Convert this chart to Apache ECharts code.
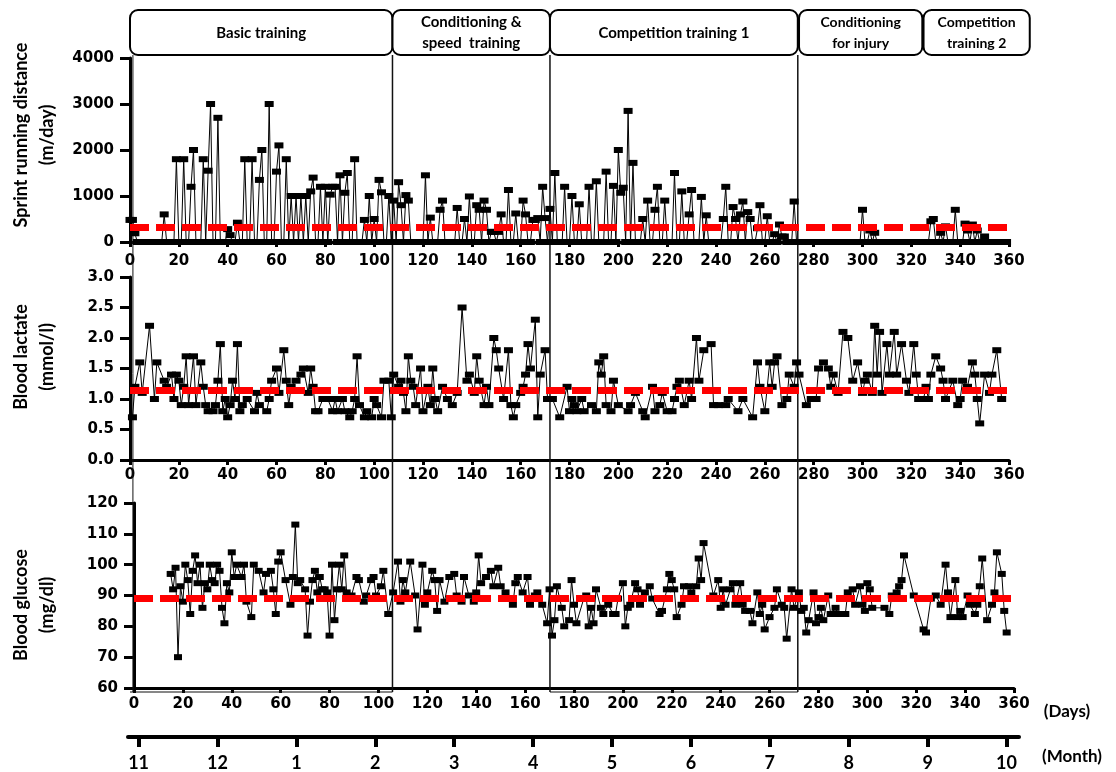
<!DOCTYPE html>
<html><head><meta charset="utf-8">
<script src="https://cdn.jsdelivr.net/npm/echarts@6/dist/echarts.min.js"></script>
<style>html,body{margin:0;padding:0;background:#fff}#c{width:1116px;height:772px}</style>
</head><body><div id="c"></div>
<script>
// ---- data ----
// sprint running distance (m/day), one value per day starting day 0
const sprintDistance = [
 480,480,190,0,0,0,0,0,0,0,0,0,0,0,600,0,0,0,0,1800,
 0,0,1800,0,0,1200,2000,0,0,0,1800,0,1550,3000,0,0,2700,0,0,0,
 280,150,0,0,420,0,0,1800,0,0,1800,0,0,1350,2000,0,0,3000,0,0,
 1530,2100,0,0,1800,0,1000,0,1000,0,1000,0,1000,0,1100,1400,0,0,1200,0,
 1200,0,1030,1200,1200,0,1450,0,1070,1500,0,0,1800,0,0,0,480,0,1000,0,
 500,0,1350,1080,0,0,1000,0,900,0,1300,800,0,1020,900,0,0,0,0,0,
 0,1450,0,530,0,0,0,700,900,0,0,0,0,0,740,0,0,500,0,990,
 0,0,800,700,0,900,700,0,220,220,0,220,600,0,0,1130,0,0,620,0,
 0,900,600,0,0,480,480,520,0,1200,520,0,720,0,1500,0,0,0,1200,0,
 0,1000,0,0,820,0,0,0,1200,0,0,1320,0,0,0,1530,0,0,1220,0,
 2000,1070,1180,0,2850,0,1720,0,0,0,500,0,900,0,0,700,1200,0,0,900,
 0,0,0,1500,0,0,1100,0,0,600,1130,0,0,0,980,0,580,0,0,0,
 0,0,0,500,1200,0,0,760,500,0,600,880,0,650,500,0,0,300,800,0,
 0,560,0,0,170,0,380,120,120,0,0,0,880,0,0,0,0,0,0,0,
 0,0,0,0,0,0,0,0,0,0,0,0,0,0,0,0,0,0,0,0,
 700,0,0,250,0,200,0,0,0,0,0,0,0,0,0,0,0,0,0,0,
 0,0,0,0,0,0,0,0,450,500,0,0,200,0,340,0,0,0,700,0,
 0,0,400,250,0,380,0,250,0,0,120,0,0,0,0,0,0,0,0,0
];
// blood lactate (mmol/l): [day, value]
const bloodLactate = [
 [1,0.7],[2,1.2],[4,1.6],[5,1.1],[8,2.2],[10,1.0],[11,1.6],[14,1.3],[15,1.2],[17,1.4],[18,1.0],[19,1.4],[20,1.3],[21,0.9],[22,1.2],[23,1.7],[24,0.9],[26,1.7],[27,0.9],[29,1.6],
 [30,1.2],[31,0.9],[32,0.8],[34,0.8],[35,0.9],[36,1.3],[37,1.9],[38,0.8],[39,1.0],[40,0.7],[41,0.9],[42,1.3],[43,1.0],[44,1.9],[45,0.8],[46,0.9],[48,1.0],[51,0.8],[52,1.1],[53,0.9],
 [56,0.8],[57,1.0],[58,1.3],[60,1.5],[61,1.1],[63,1.8],[64,1.3],[65,0.9],[66,1.2],[68,1.3],[70,1.4],[71,1.5],[73,1.1],[74,1.5],[75,1.2],[76,0.8],[77,0.8],[79,1.0],[81,1.0],[83,0.8],
 [84,1.0],[85,0.8],[87,1.0],[88,0.8],[90,0.7],[91,0.8],[92,1.0],[93,1.7],[94,0.9],[96,0.7],[97,0.8],[99,0.7],[100,1.0],[101,0.9],[103,0.7],[104,1.3],[106,1.3],[107,0.7],[108,1.4],[110,1.2],
 [111,1.3],[112,1.1],[113,0.8],[114,1.7],[115,1.3],[116,1.2],[117,0.9],[119,1.5],[120,0.8],[122,1.2],[123,0.9],[124,1.5],[125,1.0],[126,0.8],[128,1.2],[130,1.0],[132,0.9],[134,1.1],[136,2.5],[138,1.3],
 [139,1.4],[141,1.1],[142,1.7],[143,1.3],[145,0.9],[146,1.2],[147,0.9],[149,2.0],[150,1.8],[151,1.5],[153,1.0],[155,1.8],[156,0.9],[157,0.7],[158,0.9],[160,1.1],[161,1.2],[162,1.4],[163,1.9],[164,1.5],
 [166,2.3],[167,0.7],[168,1.4],[170,1.8],[171,1.0],[173,1.0],[176,0.7],[179,1.2],[180,0.8],[181,1.0],[182,0.9],[183,0.8],[185,1.0],[186,0.8],[189,0.9],[191,0.8],[192,1.6],[193,1.4],[194,1.7],[195,0.9],
 [197,0.8],[198,1.3],[200,0.9],[204,0.8],[205,0.9],[207,1.1],[210,0.8],[211,0.7],[214,1.2],[215,0.8],[217,0.9],[218,1.1],[220,0.8],[222,0.8],[223,1.0],[224,1.2],[225,1.3],[227,0.9],[229,1.3],[230,1.0],
 [232,2.0],[233,1.3],[235,1.8],[238,1.9],[239,0.9],[241,0.9],[244,0.9],[245,1.0],[249,0.8],[251,1.0],[255,0.7],[257,1.6],[258,1.2],[260,0.8],[262,1.6],[263,1.2],[264,1.6],[265,1.7],[267,0.9],[269,1.0],
 [270,1.4],[272,1.2],[273,1.6],[274,1.4],[277,0.9],[279,1.0],[281,1.0],[282,1.5],[284,1.6],[286,1.5],[287,1.2],[288,1.4],[290,1.1],[292,2.1],[294,2.0],[296,1.3],[298,1.6],[300,1.1],[301,1.3],[302,1.4],
 [304,1.1],[305,2.2],[306,1.4],[307,2.1],[308,1.1],[310,1.9],[311,1.4],[313,2.1],[314,1.4],[316,1.9],[318,1.3],[319,1.1],[321,1.9],[322,1.4],[323,1.0],[325,1.0],[326,1.2],[327,1.0],[328,1.4],[330,1.7],
 [332,1.5],[333,1.3],[334,1.0],[337,1.3],[339,0.9],[340,1.0],[341,1.3],[343,1.2],[345,1.6],[346,1.4],[347,1.0],[348,0.6],[350,1.4],[352,1.1],[353,1.4],[355,1.8],[357,1.0]
];
// blood glucose (mg/dl): [day, value]
const bloodGlucose = [
 [15,97],[16,92],[17,99],[18,70],[19,93],[20,88],[21,100],[22,95],[23,84],[24,98],[25,103],[26,94],[27,100],[28,86],[29,94],[30,92],[31,100],[32,95],[33,94],[34,100],
 [35,98],[36,86],[37,81],[38,94],[39,91],[40,104],[41,96],[42,100],[44,96],[45,100],[46,88],[48,83],[49,100],[51,98],[53,91],[54,97],[56,98],[57,92],[58,84],[59,101],
 [60,104],[62,95],[64,87],[65,96],[66,113],[67,94],[68,95],[70,92],[71,77],[72,88],[73,95],[74,98],[75,91],[76,96],[77,92],[78,92],[79,91],[80,77],[81,100],[82,82],
 [83,92],[84,100],[85,92],[86,103],[87,91],[89,90],[91,96],[92,95],[94,88],[95,90],[97,95],[98,96],[99,90],[101,93],[102,98],[104,84],[106,91],[108,101],[109,88],[110,95],
 [111,91],[113,101],[115,90],[116,79],[118,100],[119,87],[120,91],[122,98],[123,95],[124,85],[125,95],[127,88],[129,96],[131,97],[132,90],[134,88],[135,96],[137,90],[139,88],[140,91],
 [141,103],[142,94],[144,96],[146,98],[147,93],[149,99],[150,93],[152,91],[155,87],[156,94],[157,96],[159,91],[161,96],[162,87],[164,90],[165,91],[167,87],[169,81],[170,92],[171,77],
 [172,82],[173,93],[175,86],[176,80],[178,82],[179,95],[180,87],[181,81],[184,89],[185,90],[186,80],[187,86],[188,81],[189,92],[191,86],[192,84],[194,87],[196,84],[197,84],[198,89],
 [200,94],[201,80],[202,86],[203,87],[205,94],[206,92],[207,87],[209,91],[211,93],[212,89],[215,84],[216,85],[218,92],[219,97],[220,95],[221,92],[222,83],[224,87],[225,93],[227,93],
 [228,91],[230,93],[231,102],[232,95],[233,107],[237,90],[239,95],[240,86],[241,92],[242,87],[244,92],[245,94],[246,87],[248,94],[249,87],[250,85],[252,85],[253,81],[255,91],[256,84],
 [257,87],[258,79],[260,83],[262,86],[263,92],[265,87],[266,86],[267,76],[269,92],[270,86],[272,91],[273,85],[274,86],[275,78],[276,82],[278,91],[279,81],[280,83],[281,86],[282,82],
 [284,90],[285,84],[287,86],[288,84],[290,84],[291,84],[292,91],[294,92],[295,87],[297,93],[298,87],[299,85],[300,94],[301,92],[302,86],[307,86],[309,84],[310,90],[312,91],[313,93],
 [314,95],[315,103],[319,90],[323,79],[324,78],[326,89],[328,90],[330,87],[332,100],[333,91],[334,83],[336,95],[337,83],[338,85],[339,83],[341,90],[342,87],[344,84],[345,87],[346,93],
 [347,102],[349,82],[351,87],[352,91],[353,104],[355,97],[356,85],[357,78]
];
const meanSprint = 330;
const meanLactate = 1.15;
const meanGlucose = 89;
const monthLabels = ['11','12','1','2','3','4','5','6','7','8','9','10'];
const phaseNames = ['Basic training','Conditioning &\nspeed  training','Competition training 1','Conditioning\nfor injury','Competition\ntraining 2'];
const phaseStart = [0, 107.5, 172, 274, 325];
const phaseEnd = [107.5, 172, 273.5, 324.5, 368.5];
const phaseBoundaries = [1.2, 107.5, 172, 273.5];

// ---- chart ----
const chart = echarts.init(document.getElementById('c'));
const tickFont = {fontFamily:'DejaVu Sans', fontWeight:'bold', fontSize:15, color:'#000'};
function xAx(gi, margin){
  return {type:'value', gridIndex:gi, min:0, max:360, interval:20,
    axisLine:{show:true, onZero:false, lineStyle:{color:'#000', width:3}},
    axisTick:{show:true, length:5, lineStyle:{color:'#000', width:3}},
    axisLabel:Object.assign({margin:margin, formatter:(v)=>String(v)}, tickFont),
    splitLine:{show:false}};
}
function yAx(gi, min, max, interval, fmt){
  return {type:'value', gridIndex:gi, min:min, max:max, interval:interval,
    axisLine:{show:true, onZero:false, lineStyle:{color:'#000', width:3}},
    axisTick:{show:true, length:10, lineStyle:{color:'#000', width:3}},
    axisLabel:Object.assign({margin:16, formatter:fmt || ((v)=>String(v))}, tickFont),
    splitLine:{show:false}};
}
function meanLine(v){
  return {silent:true, symbol:['none','none'], label:{show:false},
    lineStyle:{color:'#ff0000', width:7, type:[19,7], opacity:1},
    data:[{yAxis:v}]};
}
function ser(name, idx, data, mean, size){
  return {name:name, type:'line', xAxisIndex:idx, yAxisIndex:idx, data:data,
    symbol:'rect', symbolSize:size, showAllSymbol:true,
    itemStyle:{color:'#000'}, lineStyle:{color:'#000', width:1},
    markLine:meanLine(mean)};
}

chart.setOption({
  animation:false,
  grid:[
    {left:130, top:58, width:879, height:184},
    {left:130, top:277, width:879, height:183},
    {left:134, top:503, width:880, height:185},
    {left:128, top:736, width:891, height:1}
  ],
  xAxis:[
    xAx(0, 12), xAx(1, 8), xAx(2, 9),
    {type:'value', gridIndex:3, min:-0.134, max:11.158,
     axisLine:{show:true, onZero:false, lineStyle:{color:'#000', width:4}},
     axisTick:{show:true, length:10, customValues:[0,1,2,3,4,5,6,7,8,9,10,11], lineStyle:{color:'#000', width:4}},
     axisLabel:{show:true, margin:17, customValues:[0,1,2,3,4,5,6,7,8,9,10,11],
       formatter:(v)=>monthLabels[Math.round(v)], fontFamily:'Lato', fontWeight:'bold', fontSize:18, color:'#000'},
     splitLine:{show:false}}
  ],
  yAxis:[
    yAx(0, 0, 4000, 1000),
    yAx(1, 0, 3, 0.5, (v)=>v.toFixed(1)),
    yAx(2, 60, 120, 10),
    {type:'value', gridIndex:3, show:false}
  ],
  series:[
    ser('Sprint running distance', 0, sprintDistance.map((v,i)=>[i,v]), meanSprint, [9,6]),
    ser('Blood lactate', 1, bloodLactate, meanLactate, [9,6]),
    ser('Blood glucose', 2, bloodGlucose, meanGlucose, [8,6])
  ]
});

// ---- annotations (phases, axis titles) ----
const px = (d)=>chart.convertToPixel({xAxisIndex:0}, d);
const g = [];
const boxTop = 10, boxH = 45, lineBottom = 692;
phaseBoundaries.forEach((d,i)=>{
  const x = px(d);
  g.push({type:'line', z:1, shape:{x1:x, y1:boxTop+boxH, x2:x, y2:lineBottom},
    style:{stroke:'#111', lineWidth: i===0 ? 1 : 1.5}});
});
[[0,0],[2,2]].forEach(([a,b])=>{
  g.push({type:'line', z:1, shape:{x1:px(phaseStart[a]), y1:lineBottom, x2:px(phaseEnd[b]), y2:lineBottom},
    style:{stroke:'#111', lineWidth:1.2}});
});
phaseNames.forEach((name,i)=>{
  const x1 = px(phaseStart[i]), x2 = px(phaseEnd[i]);
  g.push({type:'rect', z:10, shape:{x:x1, y:boxTop, width:x2-x1, height:boxH, r:8},
    style:{fill:'#fff', stroke:'#000', lineWidth:2}});
  const two = name.indexOf('\n')>=0;
  g.push({type:'text', z:11, x:(x1+x2)/2, y:boxTop+boxH/2+ (two?0:1),
    style:{text:name, fill:'#000', font:'bold ' + (i>=3 ? '14px' : '15px') + ' Lato',
      textAlign:'center', textVerticalAlign:'middle', lineHeight:21}});
});
const titles = [
  ['Sprint running distance\n(m/day)', 135],
  ['Blood lactate\n(mmol/l)', 357],
  ['Blood glucose\n(mg/dl)', 605]
];
titles.forEach(([t,y])=>{
  g.push({type:'text', x:34, y:y, rotation:Math.PI/2,
    style:{text:t, fill:'#000', font:'bold 18px Lato', textAlign:'center', textVerticalAlign:'middle', lineHeight:26}});
});
g.push({type:'text', x:1067, y:712, style:{text:'(Days)', fill:'#000', font:'bold 17px Lato', textAlign:'center', textVerticalAlign:'middle'}});
g.push({type:'text', x:1072, y:757, style:{text:'(Month)', fill:'#000', font:'bold 17px Lato', textAlign:'center', textVerticalAlign:'middle'}});
chart.setOption({graphic:g});
</script>
</body></html>
